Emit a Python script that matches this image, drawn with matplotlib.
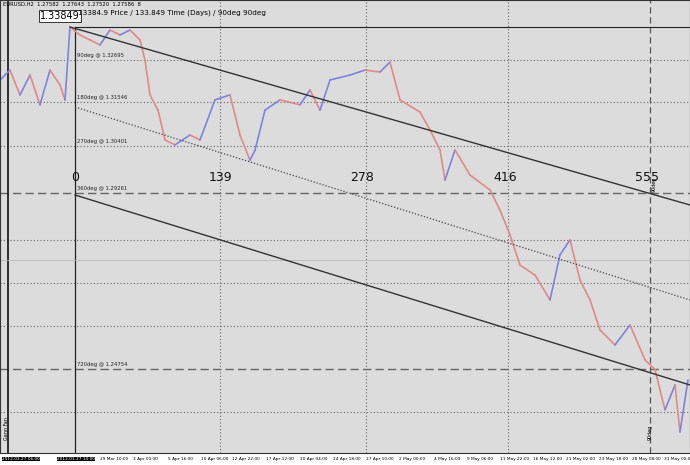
import matplotlib
matplotlib.use("Agg")
import matplotlib.pyplot as plt

bar_x = [0,10,20,30,40,50,60,65,70,80,90,100,110,120,130,140,145,150,158,165,175,190,200,215,230,240,250,255,265,280,300,310,320,330,350,365,380,390,400,420,430,440,445,455,470,490,500,510,520,535,550,560,570,580,590,600,615,630,645,655,665,675,680,688]
price = [1.3246,1.3272,1.3207,1.3259,1.3181,1.3272,1.3233,1.3194,1.3385,1.3364,1.3351,1.3338,1.3377,1.3364,1.3377,1.3351,1.3298,1.3207,1.3167,1.3089,1.3076,1.3102,1.3089,1.3194,1.3207,1.3102,1.3036,1.3062,1.3167,1.3194,1.3181,1.3220,1.3167,1.3246,1.3259,1.3272,1.3267,1.3293,1.3194,1.3162,1.3115,1.3063,1.2984,1.3063,1.2997,1.2958,1.2905,1.2840,1.2761,1.2735,1.2670,1.2788,1.2827,1.2722,1.2670,1.2591,1.2552,1.2604,1.2513,1.2487,1.2382,1.2447,1.2324,1.2460]
level_names = ["90deg @ 1.32695","180deg @ 1.31546","270deg @ 1.30401","360deg @ 1.29261","720deg @ 1.24754"]
level_px = [60,102,146,193,369]
fan_labels = ["0","139","278","416","555"]
fan_px = [75,220,362,505,647]
date_labels = ["29 Mar 10:00","3 Apr 00:00","5 Apr 16:00","10 Apr 06:00","12 Apr 22:00","17 Apr 12:00","20 Apr 04:00","24 Apr 18:00","27 Apr 10:00","2 May 00:00","4 May 16:00","9 May 06:00","11 May 22:00","16 May 12:00","21 May 02:00","23 May 18:00","28 May 08:00","31 May 00:00"]
date_px = [100,133,168,201,232,266,300,333,366,399,434,467,500,533,566,599,632,664]

def py(p):
    return 27 + (1.33849 - p) / 0.000262

BG = "#dcdcdc"
fig = plt.figure(figsize=(6.9, 4.65), dpi=100, facecolor="white")
ax = fig.add_axes([0, 12/465, 1, 453/465])
ax.set_facecolor(BG)
ax.set_xlim(0, 690); ax.set_ylim(453, 0)
ax.set_xticks([]); ax.set_yticks([])
for s in ax.spines.values():
    s.set_color("#333"); s.set_linewidth(0.8)

for y in [60,102,146,240,283,326,412]:
    ax.axhline(y, color="#666", ls=(0,(1,2)), lw=0.8)
for y in [193,369]:
    ax.axhline(y, color="#666", ls=(0,(6,3)), lw=1)
for x in [220,366,508]:
    ax.axvline(x, color="#666", ls=(0,(1,2)), lw=0.8)
ax.axvline(650, color="#555", ls=(0,(5,3)), lw=0.9)
ax.axvline(8, color="#111", lw=1.2)
ax.plot([75,75],[27,453], color="#222", lw=0.9)
ax.plot([75,690],[27,27], color="#222", lw=0.8)
ax.plot([0,690],[260,260], color="#bbb", lw=0.6)

ys = [py(p) for p in price]
for i in range(len(ys)-1):
    c = "#7b84e0" if ys[i+1] < ys[i] else "#e08a84"
    ax.plot(bar_x[i:i+2], ys[i:i+2], color=c, lw=1.2, solid_capstyle="round")

ax.plot([70,690],[27,205], color="#333", lw=1)
ax.plot([75,690],[107,300], color="#444", lw=0.9, ls=(0,(1,1.5)))
ax.plot([75,690],[195,385], color="#333", lw=1)

for n, y in zip(level_names, level_px):
    ax.text(77, y-2, n, fontsize=3.8, va="bottom", color="#222")
for n, x in zip(fan_labels, fan_px):
    ax.text(x, 177, n, fontsize=9, ha="center", va="center", color="#111")
ax.text(3, 4, "EURUSD,H2  1.27582  1.27643  1.27520  1.27586  8", fontsize=3.8, va="center")
ax.text(40, 16, "1.33849", fontsize=7, va="center",
        bbox=dict(boxstyle="square,pad=0.15", fc="white", ec="#333", lw=0.7))
ax.text(78, 13, "13384.9 Price / 133.849 Time (Days) / 90deg 90deg", fontsize=5.2, va="center")
ax.text(4, 440, "Gann Fan", fontsize=3.5, rotation=90, va="bottom")
ax.text(652, 192, "90deg", fontsize=3.5, rotation=90, va="bottom")
ax.text(648, 440, "90deg", fontsize=3.5, rotation=90, va="bottom")

for n, x in zip(date_labels, date_px):
    fig.text(x/690, 6/465, n, fontsize=3.1, va="center")
fig.text(2/690, 6/465, "2012.03.27 06:00", fontsize=3.1, va="center", color="white",
         bbox=dict(boxstyle="square,pad=0.1", fc="black", ec="none"))
fig.text(57/690, 6/465, "2012.03.27 10:00", fontsize=3.1, va="center", color="white",
         bbox=dict(boxstyle="square,pad=0.1", fc="black", ec="none"))
fig.savefig("out.png", dpi=100, facecolor="white")
